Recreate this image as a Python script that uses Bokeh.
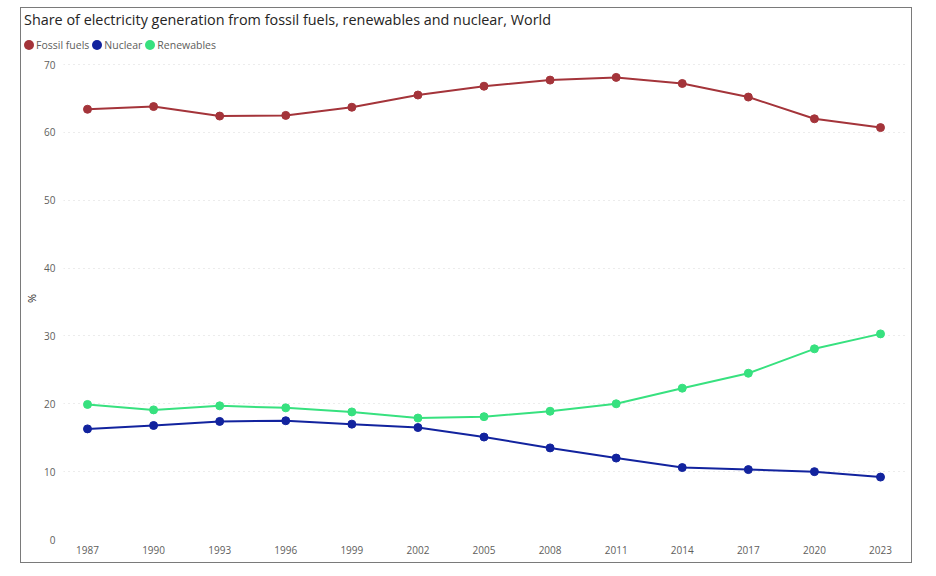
from bokeh.plotting import figure
from bokeh.models import Range1d, FixedTicker, ColumnDataSource, Div
from bokeh.layouts import column
from bokeh.embed import file_html
from bokeh.resources import INLINE

years = [1987, 1990, 1993, 1996, 1999, 2002, 2005, 2008, 2011, 2014, 2017, 2020, 2023]
fossil = [63.4, 63.8, 62.4, 62.5, 63.7, 65.5, 66.8, 67.7, 68.1, 67.2, 65.2, 62.0, 60.7]
nuclear = [16.3, 16.8, 17.4, 17.5, 17.0, 16.5, 15.1, 13.5, 12.0, 10.6, 10.3, 10.0, 9.2]
renewables = [19.9, 19.1, 19.7, 19.4, 18.8, 17.9, 18.1, 18.9, 20.0, 22.3, 24.5, 28.1, 30.3]
series_names = ["Fossil fuels", "Nuclear", "Renewables"]
colors = ["#A4343A", "#12239E", "#37E17F"]
y_ticks = [0, 10, 20, 30, 40, 50, 60, 70]
title_text = "Share of electricity generation from fossil fuels, renewables and nuclear, World"

FONT = "Open Sans"

# header: title + legend (built from the series arrays)
legend_html = "".join(
    f'<span style="display:inline-block;margin-right:3px;white-space:nowrap">'
    f'<span style="display:inline-block;width:10px;height:10px;border-radius:50%;'
    f'background:{c};vertical-align:-1px;margin-right:2px"></span>{n}</span>'
    for n, c in zip(series_names, colors))
header = Div(
    text=(f'<div style="font-family:\'{FONT}\';color:#252423;font-size:14.4px;'
          f'line-height:20px;padding:2px 0 0 3px;white-space:nowrap">{title_text}</div>'
          f'<div style="font-family:\'{FONT}\';color:#605E5C;font-size:10.5px;'
          f'line-height:14px;padding:8px 0 0 3px;white-space:nowrap">{legend_html}</div>'),
    width=890, height=49, margin=0)

p = figure(width=890, height=505, output_backend="svg", toolbar_location=None,
           x_range=Range1d(1985.91, 2024.18), y_range=Range1d(0, 71.03),
           min_border_left=40, min_border_right=5, min_border_bottom=23, min_border_top=0)
p.margin = 0

p.outline_line_color = None
p.background_fill_color = "white"
p.border_fill_color = "white"

p.xaxis.ticker = FixedTicker(ticks=years)
p.yaxis.ticker = FixedTicker(ticks=y_ticks)
for ax in (p.xaxis, p.yaxis):
    ax.axis_line_color = None
    ax.major_tick_line_color = None
    ax.minor_tick_line_color = None
    ax.major_label_text_font = FONT
    ax.major_label_text_font_size = "10px"
    ax.major_label_text_color = "#605E5C"
p.xaxis.major_label_standoff = 0
p.yaxis.major_label_standoff = 2
p.yaxis.axis_label = "%"
p.yaxis.axis_label_text_font = FONT
p.yaxis.axis_label_text_font_size = "11px"
p.yaxis.axis_label_text_font_style = "normal"
p.yaxis.axis_label_text_color = "#252423"
p.yaxis.axis_label_standoff = 2

p.xgrid.grid_line_color = None
p.ygrid.grid_line_color = "#d8d8d8"
p.ygrid.grid_line_dash = "1 4"
p.ygrid.grid_line_width = 1

for name, vals, c in zip(series_names, [fossil, nuclear, renewables], colors):
    src = ColumnDataSource(dict(x=years, y=vals))
    p.line("x", "y", source=src, line_color=c, line_width=2)
    p.scatter("x", "y", source=src, size=8, fill_color=c, line_color=c)

layout = column(header, p, spacing=0, margin=(7, 0, 0, 20),
                styles={"border": "1px solid #7a7a7a", "background": "white"})

open("out.html", "w").write(file_html(layout, INLINE))
